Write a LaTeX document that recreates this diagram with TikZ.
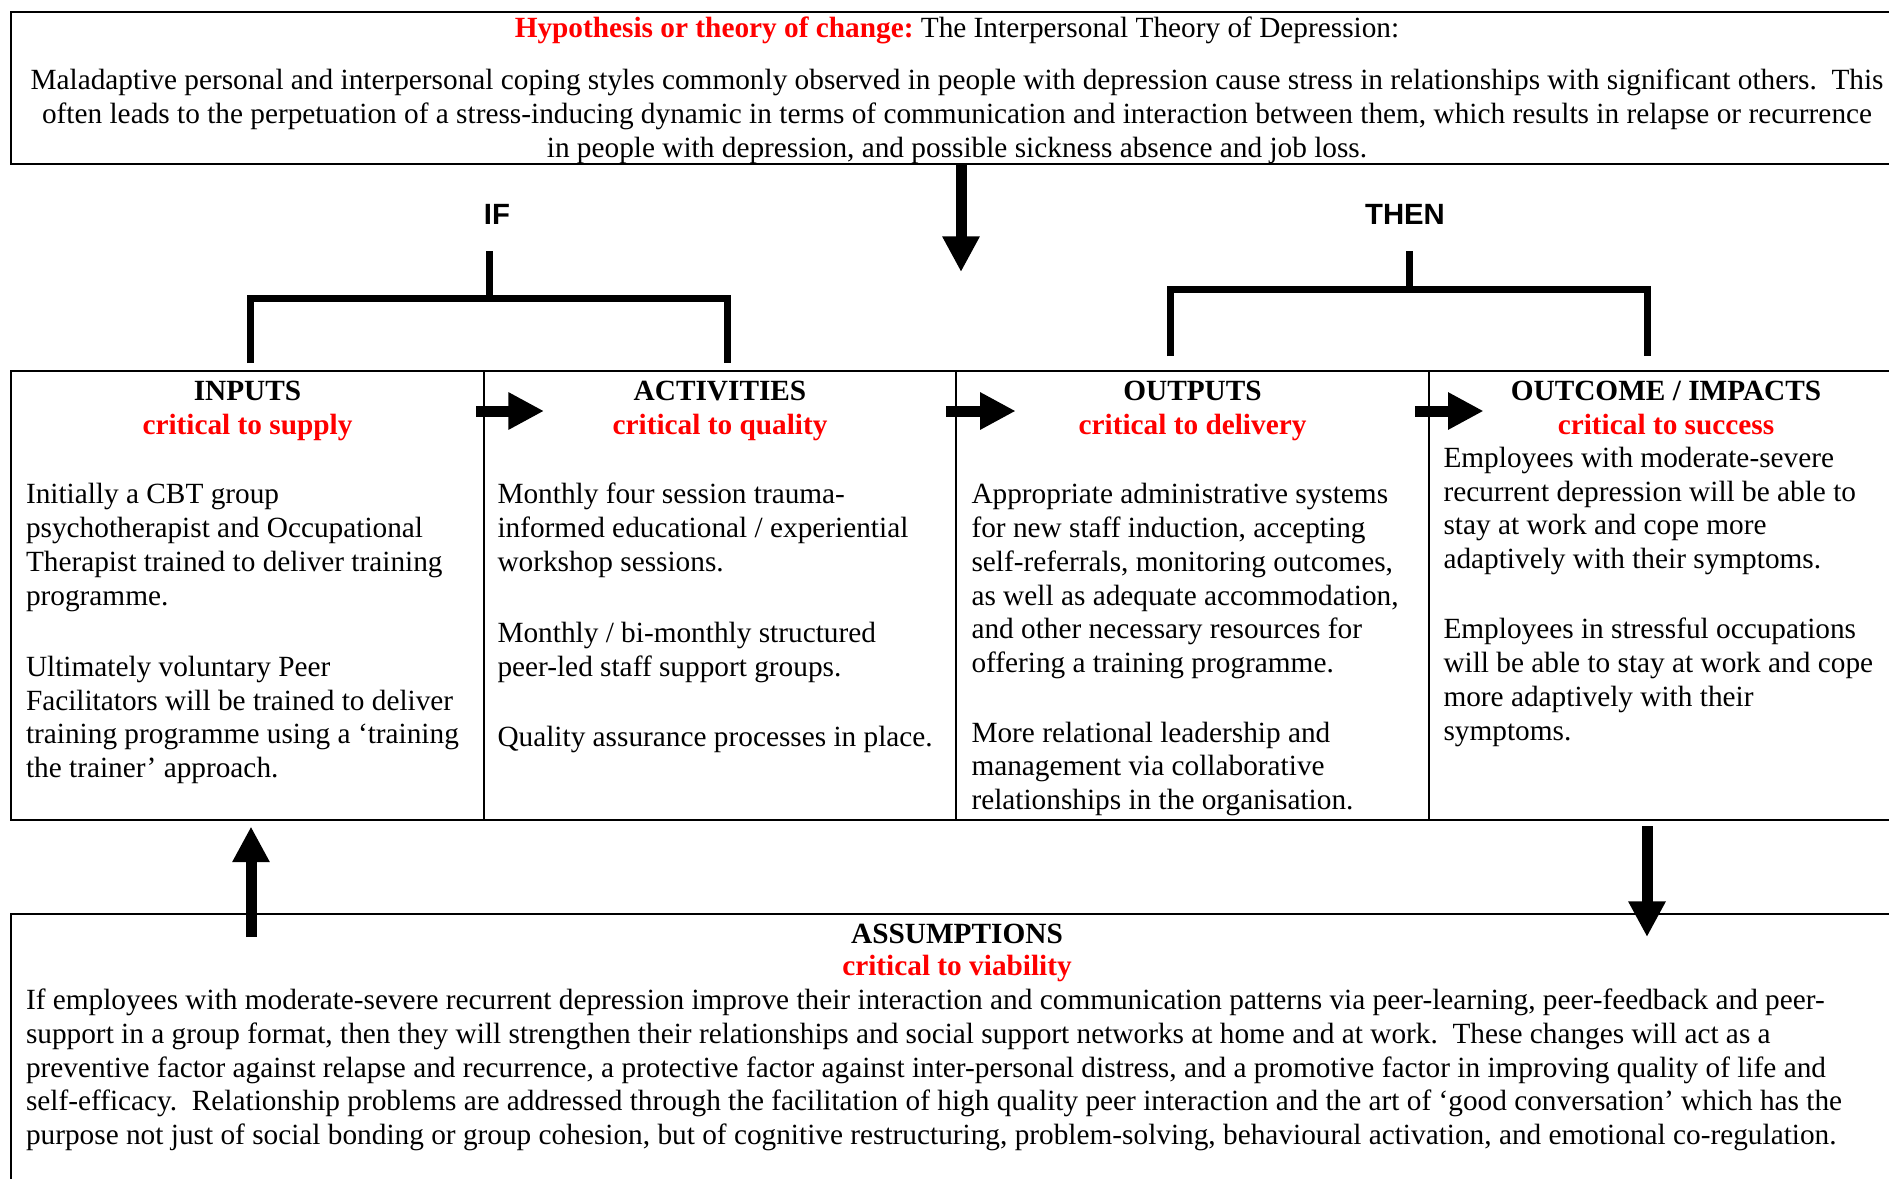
\documentclass[tikz,border=0pt]{standalone}
\usepackage{fontspec}
\setmainfont{Liberation Serif}
\newfontfamily\headsans{Liberation Sans}
\usetikzlibrary{arrows.meta}
\definecolor{keyred}{RGB}{255,0,0}
\newcommand\bodysize{\fontsize{14.65pt}{16.875pt}\selectfont\frenchspacing}

\begin{document}
\begin{tikzpicture}[x=0.5pt,y=-0.5pt,
  every node/.style={inner sep=0pt,outer sep=0pt},
  frame/.style={draw,line width=1.3pt},
  panel/.style={draw,line width=0.9pt,anchor=north west,minimum height=224.5pt},
  % multi-line text blocks are placed by the baseline of their last line
  bodytext/.style={font=\bodysize,align=left,anchor=base west},
  centretext/.style={font=\bodysize,align=center,anchor=base},
  heading/.style={font=\bodysize\bfseries,anchor=base},
  keyline/.style={font=\bodysize\bfseries,text=keyred,anchor=base},
  sidelabel/.style={font=\bodysize\headsans\bfseries,anchor=base},
  bracket/.style={line width=3.5pt,line join=miter},
  blockarrow/.style={line width=5.5pt,-{Triangle[length=17.8pt,width=17.5pt]}},
]
\useasboundingbox (0,0) rectangle (1889,1178);

% ---------- hypothesis box ----------
\node[frame,anchor=north west,minimum width=946pt,minimum height=76pt] (hyp) at (11,12) {};
\node[centretext] (hyptitle) at (957,37.5)
  {\textcolor{keyred}{\bfseries Hypothesis or theory of change:} The Interpersonal Theory of Depression:};
\node[centretext] (hypbody) at (957,157)
  {Maladaptive personal and interpersonal coping styles commonly observed in people with depression cause stress in relationships with significant others.\ \ This\\
   often leads to the perpetuation of a stress-inducing dynamic in terms of communication and interaction between them, which results in relapse or recurrence\\
   in people with depression, and possible sickness absence and job loss.};

\coordinate (hyptip) at (961,272);
\draw[blockarrow] (hyp.south -| hyptip) -- (hyptip);

% ---------- IF / THEN brackets ----------
\node[sidelabel] (iflab) at (497,224) {IF};
\coordinate (iftop) at (489,251);
\coordinate (ifjoin) at (489,298);
\coordinate (ifleft) at (250,363);
\coordinate (ifright) at (727,363);
\draw[bracket] (iftop) -- (ifjoin);
\draw[bracket] (ifleft) |- (ifjoin) -| (ifright);

\node[sidelabel] (thenlab) at (1405,224) {THEN};
\coordinate (thentop) at (1409,251);
\coordinate (thenjoin) at (1409,289.7);
\coordinate (thenleft) at (1170.6,356);
\coordinate (thenright) at (1647,356);
\draw[bracket] (thentop) -- (thenjoin);
\draw[bracket] (thenleft) |- (thenjoin) -| (thenright);

% ---------- logic model panels ----------
\node[panel,minimum width=236.5pt] (inputs) at (11,371) {};
\node[panel,minimum width=236pt] (activities) at (484,371) {};
\node[panel,minimum width=236.5pt] (outputs) at (956,371) {};
\node[panel,minimum width=237pt] (outcome) at (1429,371) {};
\draw[frame] (inputs.north west) rectangle (outcome.south east);

\node[heading] (inputsH) at (247.5,400) {INPUTS};
\node[keyline] (inputsK) at (247.5,434) {critical to supply};
\node[heading] (activitiesH) at (720,400) {ACTIVITIES};
\node[keyline] (activitiesK) at (720,434) {critical to quality};
\node[heading] (outputsH) at (1192.5,400) {OUTPUTS};
\node[keyline] (outputsK) at (1192.5,434) {critical to delivery};
\node[heading] (outcomeH) at (1666,400) {OUTCOME / IMPACTS};
\node[keyline] (outcomeK) at (1666,434) {critical to success};

\node[bodytext] (inputsA) at (26,605)
  {Initially a CBT group\\ psychotherapist and Occupational\\ Therapist trained to deliver training\\ programme.};
\node[bodytext] (inputsB) at (26,777.5)
  {Ultimately voluntary Peer\\ Facilitators will be trained to deliver\\ training programme using a ‘training\\ the trainer’ approach.};

\node[bodytext] (activitiesA) at (497.5,571.2)
  {Monthly four session trauma-\\ informed educational / experiential\\ workshop sessions.};
\node[bodytext] (activitiesB) at (497.5,676)
  {Monthly / bi-monthly structured\\ peer-led staff support groups.};
\node[bodytext] (activitiesC) at (497.5,746)
  {Quality assurance processes in place.};

\node[bodytext] (outputsA) at (971.5,672.5)
  {Appropriate administrative systems\\ for new staff induction, accepting\\ self-referrals, monitoring outcomes,\\ as well as adequate accommodation,\\ and other necessary resources for\\ offering a training programme.};
\node[bodytext] (outputsB) at (971.5,809.5)
  {More relational leadership and\\ management via collaborative\\ relationships in the organisation.};

\node[bodytext] (outcomeA) at (1443.5,568.5)
  {Employees with moderate-severe\\ recurrent depression will be able to\\ stay at work and cope more\\ adaptively with their symptoms.};
\node[bodytext] (outcomeB) at (1443.5,740)
  {Employees in stressful occupations\\ will be able to stay at work and cope\\ more adaptively with their\\ symptoms.};

% flow arrows between panels
\coordinate (flowAs) at (476,411);  \coordinate (flowAe) at (544,411);
\coordinate (flowBs) at (946,411);  \coordinate (flowBe) at (1015.7,411);
\coordinate (flowCs) at (1415,411); \coordinate (flowCe) at (1483.6,411);
\draw[blockarrow] (flowAs) -- (flowAe);
\draw[blockarrow] (flowBs) -- (flowBe);
\draw[blockarrow] (flowCs) -- (flowCe);

% ---------- assumptions box ----------
\node[frame,anchor=north west,minimum width=946pt,minimum height=143pt] (assump) at (11,914) {};
\node[heading] (assumpH) at (957,943) {ASSUMPTIONS};
\node[keyline] (assumpK) at (957,975) {critical to viability};
\node[bodytext] (assumpbody) at (26,1144.7)
  {If employees with moderate-severe recurrent depression improve their interaction and communication patterns via peer-learning, peer-feedback and peer-\\
   support in a group format, then they will strengthen their relationships and social support networks at home and at work.\ \ These changes will act as a\\
   preventive factor against relapse and recurrence, a protective factor against inter-personal distress, and a promotive factor in improving quality of life and\\
   self-efficacy.\ \ Relationship problems are addressed through the facilitation of high quality peer interaction and the art of ‘good conversation’ which has the\\
   purpose not just of social bonding or group cohesion, but of cognitive restructuring, problem-solving, behavioural activation, and emotional co-regulation.};

\coordinate (upbase) at (251,937);
\coordinate (uptip) at (251,826.5);
\draw[blockarrow] (upbase) -- (uptip);
\coordinate (downbase) at (1647,826);
\coordinate (downtip) at (1647,937);
\draw[blockarrow] (downbase) -- (downtip);
\end{tikzpicture}
\end{document}
